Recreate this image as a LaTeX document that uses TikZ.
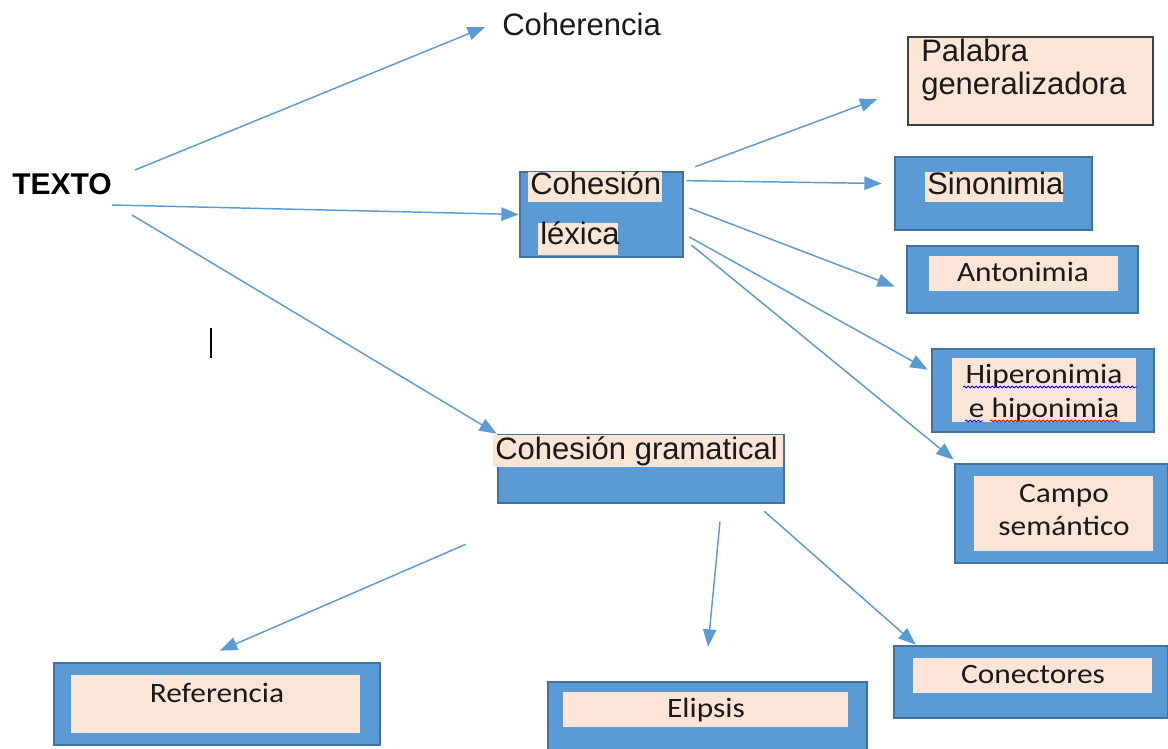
\documentclass[tikz,border=0pt]{standalone}
\usepackage{fontspec}
\setmainfont{Liberation Sans}
\newfontfamily\calf[FakeStretch=1.12]{Carlito}
\usetikzlibrary{arrows.meta,fit,calc,decorations.pathmorphing}
\definecolor{bfill}{HTML}{5B9BD5}
\definecolor{bdraw}{HTML}{41719C}
\definecolor{peach}{HTML}{FBE5D6}
\definecolor{arrc}{HTML}{5B9BD5}
\tikzset{
  bluebox/.style={draw=bdraw, fill=bfill, line width=2pt, inner sep=0pt, rectangle},
  peachbox/.style={fill=peach, draw=none, inner sep=0pt, rectangle},
  ar/.style={draw=arrc, line width=1.1pt, -{Triangle[length=13pt,width=10pt]}},
  arial/.style={font=\fontsize{23.25}{28}\selectfont, inner sep=0pt, text=black!90},
  arialb/.style={font=\fontsize{22.5}{28}\selectfont\bfseries, inner sep=0pt},
  calib/.style={font=\calf\fontsize{21}{26}\selectfont, inner sep=0pt, text=black!90},
  squig/.style={line width=0.6pt, decorate, decoration={snake, amplitude=0.7pt, segment length=3pt}}
}
\begin{document}
\begin{tikzpicture}[x=0.75pt,y=-0.75pt]
\useasboundingbox (0,0) rectangle (1168,749);

% top-level texts
\node[arialb, anchor=base west] (texto) at (12,194) {TEXTO};
\node[arial, anchor=base west] (coher) at (502,36) {Coherencia};

% Cohesion lexica
\node[bluebox, fit={(520,172)(683,257)}] (lex) {};
\node[peachbox, fit={(528,172)(662,202)}] (lexh1) {};
\node[peachbox, fit={(538,223)(618,255)}] (lexh2) {};
\node[arial, anchor=base west] (lext1) at (530,194) {Cohesión};
\node[arial, anchor=base west] (lext2) at (540,244) {léxica};

% Palabra generalizadora
\node[draw=black!75, fill=peach, line width=1.1pt, inner sep=0pt, fit={(908,37)(1153,125)}] (pal) {};
\node[arial, anchor=base west] (palt1) at (921,62) {Palabra};
\node[arial, anchor=base west] (palt2) at (921,95) {generalizadora};

% Sinonimia
\node[bluebox, fit={(895,157)(1092,230)}] (sin) {};
\node[peachbox, fit={(925,172)(1063,202)}] (sinh) {};
\node[arial, anchor=base west] (sint) at (927,195) {Sinonimia};

% Antonimia
\node[bluebox, fit={(907,246)(1138,313)}] (ant) {};
\node[peachbox, fit={(929,256)(1118,291)}] (anth) {};
\node[calib, anchor=base] (antt) at (1023,281) {Antonimia};

% Hiperonimia
\node[bluebox, fit={(932,349)(1154,432)}] (hip) {};
\node[peachbox, fit={(952,358)(1136,422)}] (hiph) {};
\node[calib, anchor=base] (hipt1) at (1044,383) {Hiperonimia};
\node[calib, anchor=base] (hipt2) at (1044,417) {e hiponimia};
\draw[squig, blue] (963,387) -- (1137,387);
\draw[squig, blue] (965,421) -- (983,421);
\draw[squig, red] (990,421) -- (1120,421);

% Campo semantico
\node[bluebox, fit={(955,464)(1168,563)}] (campo) {};
\node[peachbox, fit={(974,476)(1153,551)}] (campoh) {};
\node[calib, anchor=base] (campot1) at (1064,502) {Campo};
\node[calib, anchor=base] (campot2) at (1064,535) {semántico};

% Cohesion gramatical
\node[bluebox, fit={(498,435)(784,503)}] (gram) {};
\node[peachbox, fit={(493,435)(783,467)}] (gramh) {};
\node[arial, anchor=base west] (gramt) at (495,459) {Cohesión gramatical};

% Referencia
\node[bluebox, fit={(54,663)(380,745)}] (ref) {};
\node[peachbox, fit={(71,675)(360,733)}] (refh) {};
\node[calib, anchor=base] (reft) at (217,702) {Referencia};

% Elipsis
\node[bluebox, fit={(548,682)(867,752)}] (eli) {};
\node[peachbox, fit={(563,692)(848,727)}] (elih) {};
\node[calib, anchor=base] (elit) at (706,717) {Elipsis};

% Conectores
\node[bluebox, fit={(894,646)(1168,718)}] (con) {};
\node[peachbox, fit={(913,658)(1152,693)}] (conh) {};
\node[calib, anchor=base] (cont) at (1033,683) {Conectores};

% text cursor
\draw[line width=1.2pt] (211,328) -- (211,358);

% arrows
\draw[ar] ($(texto.base east)+(23,-24)$) -- ($(coher.base west)+(-17,-9)$);
\draw[ar] ($(texto.base east)+(0,11)$) -- (lex.west);
\draw[ar] ($(texto.base east)+(20,21)$) -- (gram.north west);
\draw[ar] ($(lex.north east)+(11,-4)$) -- ($(pal.west)+(-30,18)$);
\draw[ar] ($(lex.north east)+(2,10)$) -- ($(sin.west)+(-12,-10)$);
\draw[ar] ($(lex.east)+(5,-6.5)$) -- ($(ant.west)+(-11,7)$);
\draw[ar] ($(lex.east)+(5,22.5)$) -- ($(hip.north west)+(-3,22)$);
\draw[ar] ($(lex.east)+(7,30.5)$) -- ($(campo.north west)+(0,-3)$);
\draw[ar] ($(gram.south west)+(-31,40)$) -- ($(ref.north)+(3,-11)$);
\draw[ar] ($(gram.south)+(79,17)$) -- ($(eli.north)+(0.5,-34)$);
\draw[ar] ($(gram.south east)+(-21,7)$) -- ($(con.north west)+(23,0)$);
\end{tikzpicture}
\end{document}
